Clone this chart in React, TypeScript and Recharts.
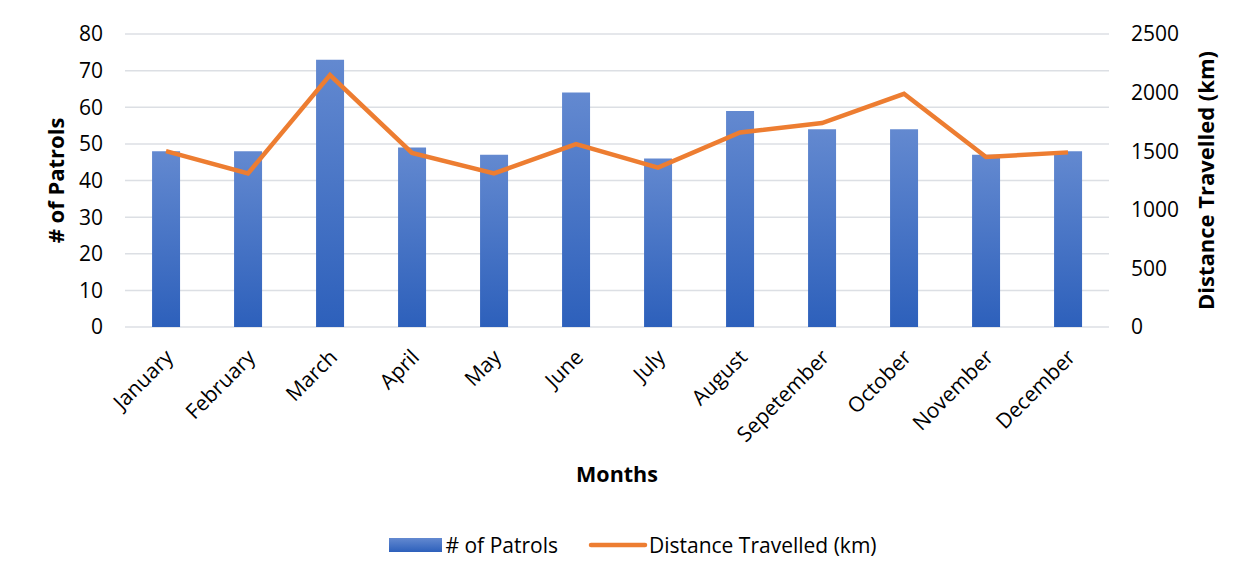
import React from "react";
import { ComposedChart, Bar, Line, XAxis, YAxis, CartesianGrid, Legend, Label } from "recharts";

const months = ["January", "February", "March", "April", "May", "June", "July", "August", "Sepetember", "October", "November", "December"];
const patrols = [48, 48, 73, 49, 47, 64, 46, 59, 54, 54, 47, 48];
const distance = [1500, 1310, 2150, 1485, 1310, 1560, 1360, 1660, 1740, 1990, 1450, 1490];
const leftTicks = [0, 10, 20, 30, 40, 50, 60, 70, 80];
const rightTicks = [0, 500, 1000, 1500, 2000, 2500];

const data = months.map((m, i) => ({ month: m, patrols: patrols[i], distance: distance[i] }));

const FONT = "'Open Sans', 'Noto Sans', sans-serif";
const ORANGE = "#ED7D31";
const TICK_SIZE = 21;

const LegendContent = () => (
  <div style={{ display: "flex", justifyContent: "center", alignItems: "center", height: 60, fontFamily: FONT, fontSize: 21, color: "#000", paddingLeft: 10 }}>
    <svg width={53} height={16} style={{ marginRight: 3 }}>
      <defs>
        <linearGradient id="legGrad" x1="0" y1="0" x2="0" y2="1">
          <stop offset="0%" stopColor="#6389d0" />
          <stop offset="100%" stopColor="#2d60bb" />
        </linearGradient>
      </defs>
      <rect x={0} y={1} width={53} height={14} fill="url(#legGrad)" />
    </svg>
    <span># of Patrols</span>
    <svg width={60} height={16} style={{ marginLeft: 30, marginRight: 1 }}>
      <line x1={3} y1={8} x2={57} y2={8} stroke={ORANGE} strokeWidth={4.5} strokeLinecap="round" />
    </svg>
    <span>Distance Travelled (km)</span>
  </div>
);

export default function App() {
  return (
    <div style={{ width: 1242, height: 580, border: "1px solid #d9d9d9", boxSizing: "border-box", marginLeft: -1, marginTop: -2, background: "#fff" }}>
      <ComposedChart
        width={1240}
        height={568}
        data={data}
        margin={{ top: 27, right: 0, bottom: 0, left: 0 }}
        barCategoryGap="33%"
        style={{ fontFamily: FONT }}
      >
        <defs>
          <linearGradient id="barGrad" x1="0" y1="0" x2="0" y2="1">
            <stop offset="0%" stopColor="#6389d0" />
            <stop offset="100%" stopColor="#2d60bb" />
          </linearGradient>
        </defs>
        <CartesianGrid yAxisId="left" vertical={false} stroke="#dcdfe4" strokeWidth={1.5} />
        <XAxis
          dataKey="month"
          height={188}
          interval={0}
          axisLine={false}
          tickLine={false}
          tickSize={0}
          tickMargin={21}
          angle={-45}
          textAnchor="end"
          tick={{ fill: "#000", fontSize: TICK_SIZE, fontFamily: FONT, dx: -2 }}
        >
          <Label value="Months" position="insideBottom" offset={33} style={{ fill: "#000", fontSize: 21.5, fontWeight: 700, fontFamily: FONT }} />
        </XAxis>
        <YAxis
          yAxisId="left"
          domain={[0, 80]}
          ticks={leftTicks}
          width={117}
          axisLine={false}
          tickLine={false}
          tickSize={0}
          tickMargin={22}
          tick={{ fill: "#000", fontSize: TICK_SIZE, fontFamily: FONT }}
        >
          <Label value="# of Patrols" angle={-90} position="insideLeft" offset={48} style={{ fill: "#000", fontSize: 22, fontWeight: 700, fontFamily: FONT, textAnchor: "middle" }} />
        </YAxis>
        <YAxis
          yAxisId="right"
          orientation="right"
          domain={[0, 2500]}
          ticks={rightTicks}
          width={139}
          axisLine={false}
          tickLine={false}
          tickSize={0}
          tickMargin={22}
          tick={{ fill: "#000", fontSize: TICK_SIZE, fontFamily: FONT }}
        >
          <Label value="Distance Travelled (km)" angle={-90} position="insideRight" offset={42} style={{ fill: "#000", fontSize: 22, fontWeight: 700, fontFamily: FONT, textAnchor: "middle" }} />
        </YAxis>
        <Legend verticalAlign="bottom" height={60} content={<LegendContent />} />
        <Bar yAxisId="left" dataKey="patrols" name="# of Patrols" fill="url(#barGrad)" isAnimationActive={false} />
        <Line yAxisId="right" dataKey="distance" name="Distance Travelled (km)" stroke={ORANGE} strokeWidth={4.5} dot={false} type="linear" isAnimationActive={false} />
      </ComposedChart>
    </div>
  );
}
